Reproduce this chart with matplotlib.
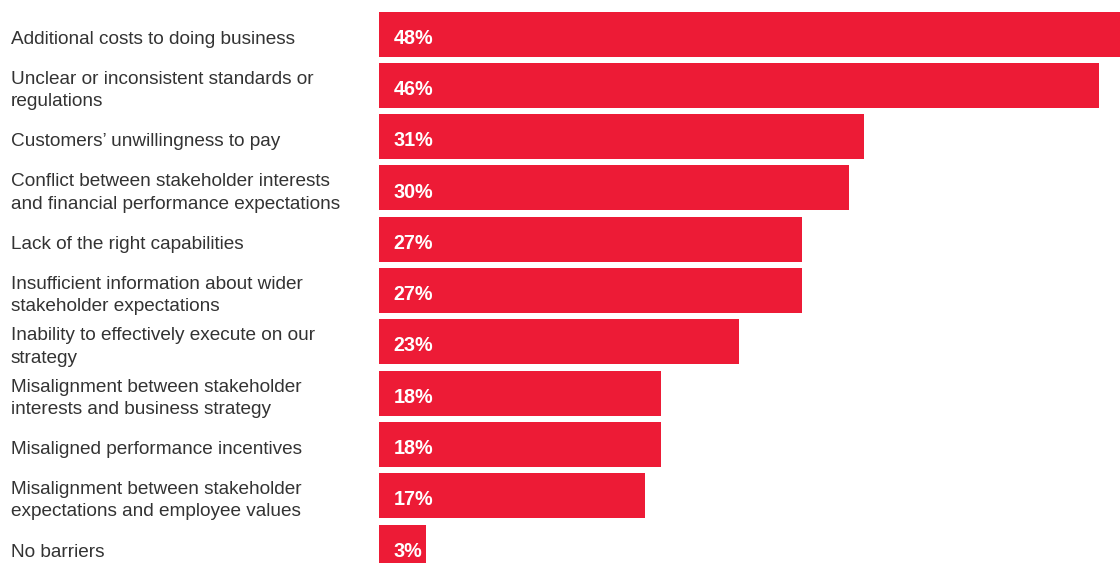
import matplotlib
matplotlib.use("Agg")
import matplotlib.pyplot as plt
import matplotlib.transforms as mtransforms

plt.rcParams['font.family'] = ['Liberation Sans', 'DejaVu Sans']

labels = [
    "Additional costs to doing business",
    "Unclear or inconsistent standards or\nregulations",
    "Customers\u2019 unwillingness to pay",
    "Conflict between stakeholder interests\nand financial performance expectations",
    "Lack of the right capabilities",
    "Insufficient information about wider\nstakeholder expectations",
    "Inability to effectively execute on our\nstrategy",
    "Misalignment between stakeholder\ninterests and business strategy",
    "Misaligned performance incentives",
    "Misalignment between stakeholder\nexpectations and employee values",
    "No barriers",
]
values = [48, 46, 31, 30, 27, 27, 23, 18, 18, 17, 3]

red = "#ED1B36"
W, H = 1120, 563
fig = plt.figure(figsize=(W / 100, H / 100), dpi=100)
ax = fig.add_axes([379 / W, 0, 1 - 379 / W, 1])

pitch = 51.3
ypos = list(range(len(values)))
ax.barh(ypos, values, height=45 / pitch, color=red, align="center")
ax.set_xlim(0, (W - 379) / 15.65)
ax.set_ylim(10 + 16 / pitch, -34 / pitch)
ax.axis("off")

trans = mtransforms.blended_transform_factory(fig.transFigure, ax.transData)
for y, lab, v in zip(ypos, labels, values):
    ax.text(11 / W, y + 0.1, lab, transform=trans, ha="left", va="center",
            fontsize=13.7, color="#333333", linespacing=1.4, clip_on=False)
    ax.text(0.95, y + 0.08, "%d%%" % v, ha="left", va="center",
            fontsize=14.2, color="white", fontweight="bold")

fig.savefig("out.png", dpi=100)
